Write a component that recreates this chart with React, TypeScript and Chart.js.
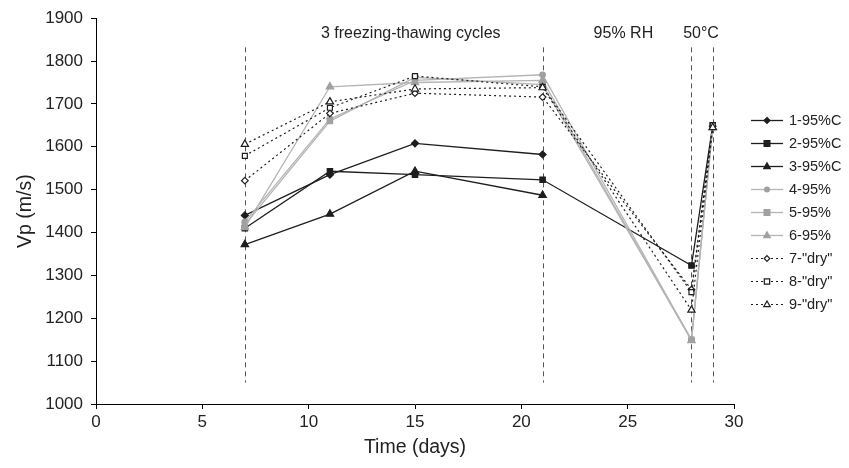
import React, { useEffect, useRef } from 'react';
import { Chart, registerables } from 'chart.js';

Chart.register(...registerables);

// ---- data ----
const days = [7, 11, 15, 21, 28, 29];
const s1 = [1440, 1535, 1608, 1582, null, null];
const s2 = [1410, 1543, 1535, 1523, 1323, 1650];
const s3 = [1372, 1443, 1543, 1487, null, null];
const s4 = [1425, 1665, 1755, 1768, 1150, 1645];
const s5 = [1418, 1660, 1762, 1745, 1150, 1648];
const s6 = [1412, 1740, 1750, 1755, 1148, 1645];
const s7 = [1521, 1678, 1725, 1716, 1267, 1648];
const s8 = [1579, 1691, 1765, 1740, 1261, 1650];
const s9 = [1606, 1705, 1735, 1738, 1219, 1645];
const seriesNames = ['1-95%C', '2-95%C', '3-95%C', '4-95%', '5-95%', '6-95%', '7-"dry"', '8-"dry"', '9-"dry"'];
const seriesValues = [s1, s2, s3, s4, s5, s6, s7, s8, s9];

const phaseDays = [7, 21, 28, 29];
const phaseLabels = ['3 freezing-thawing cycles', '95% RH', '50°C'];
const phaseLabelDays = [14.8, 24.8, 28.45];

// ---- styles ----
type Style = { color: string; fill: string; marker: string; radius: number; dash: number[]; width: number };
const BLACK = '#1e1e1e';
const GRAYL = '#b4b4b4';
const GRAYM = '#a0a0a0';
const styles: Style[] = [
  { color: BLACK, fill: BLACK, marker: 'rectRot', radius: 3.5, dash: [], width: 1.3 },
  { color: BLACK, fill: BLACK, marker: 'rect', radius: 3.8, dash: [], width: 1.3 },
  { color: BLACK, fill: BLACK, marker: 'triangle', radius: 4.3, dash: [], width: 1.3 },
  { color: GRAYL, fill: GRAYM, marker: 'circle', radius: 2.8, dash: [], width: 1.3 },
  { color: GRAYL, fill: GRAYM, marker: 'rect', radius: 3.8, dash: [], width: 1.3 },
  { color: GRAYL, fill: GRAYM, marker: 'triangle', radius: 4.3, dash: [], width: 1.3 },
  { color: BLACK, fill: '#ffffff', marker: 'rectRot', radius: 3.3, dash: [2, 3], width: 1.2 },
  { color: BLACK, fill: '#ffffff', marker: 'rect', radius: 3.5, dash: [2, 3], width: 1.2 },
  { color: BLACK, fill: '#ffffff', marker: 'triangle', radius: 4.2, dash: [2, 3], width: 1.2 },
];

const FONT = '"Liberation Sans", Arial, Helvetica, sans-serif';
const TEXT = '#222';

function drawMarker(ctx: CanvasRenderingContext2D, kind: string, x: number, y: number, r: number, fill: string, stroke: string) {
  ctx.save();
  ctx.setLineDash([]);
  ctx.fillStyle = fill;
  ctx.strokeStyle = stroke;
  ctx.lineWidth = 1.2;
  ctx.beginPath();
  if (kind === 'rect') {
    const s = r * 0.9;
    ctx.rect(x - s, y - s, 2 * s, 2 * s);
  } else if (kind === 'rectRot') {
    ctx.moveTo(x, y - r);
    ctx.lineTo(x + r, y);
    ctx.lineTo(x, y + r);
    ctx.lineTo(x - r, y);
    ctx.closePath();
  } else if (kind === 'triangle') {
    ctx.moveTo(x, y - r);
    ctx.lineTo(x + r * 0.9, y + r * 0.6);
    ctx.lineTo(x - r * 0.9, y + r * 0.6);
    ctx.closePath();
  } else {
    ctx.arc(x, y, r, 0, Math.PI * 2);
  }
  ctx.fill();
  ctx.stroke();
  ctx.restore();
}

const phasePlugin = {
  id: 'phases',
  beforeDatasetsDraw(chart: any) {
    const { ctx, scales } = chart;
    const x = scales.x;
    const y = scales.y;
    ctx.save();
    ctx.strokeStyle = '#555';
    ctx.lineWidth = 1;
    ctx.setLineDash([5, 4]);
    phaseDays.forEach((d) => {
      const px = Math.round(x.getPixelForValue(d)) + 0.5;
      ctx.beginPath();
      ctx.moveTo(px, y.getPixelForValue(1832));
      ctx.lineTo(px, y.getPixelForValue(1050));
      ctx.stroke();
    });
    ctx.setLineDash([]);
    ctx.fillStyle = TEXT;
    ctx.font = `16px ${FONT}`;
    ctx.textAlign = 'center';
    ctx.textBaseline = 'middle';
    phaseLabels.forEach((t, i) => {
      ctx.fillText(t, x.getPixelForValue(phaseLabelDays[i]), y.getPixelForValue(1863));
    });
    ctx.restore();
  },
};

const legendPlugin = {
  id: 'sideLegend',
  afterDraw(chart: any) {
    const { ctx } = chart;
    ctx.save();
    const x0 = 751;
    const x1 = 783;
    const top = 120;
    const step = 23;
    ctx.font = `14.5px ${FONT}`;
    ctx.textBaseline = 'middle';
    ctx.textAlign = 'left';
    seriesNames.forEach((name, i) => {
      const st = styles[i];
      const yy = top + i * step;
      ctx.strokeStyle = st.color;
      ctx.lineWidth = st.width;
      ctx.setLineDash(st.dash);
      ctx.beginPath();
      ctx.moveTo(x0, yy + 0.5);
      ctx.lineTo(x1, yy + 0.5);
      ctx.stroke();
      const mStroke = st.fill === '#ffffff' ? BLACK : st.fill;
      drawMarker(ctx, st.marker, (x0 + x1) / 2, yy + 0.5, st.radius * 0.85, st.fill, mStroke);
      ctx.fillStyle = TEXT;
      ctx.fillText(name, 789, yy + 1);
    });
    ctx.restore();
  },
};

export default function App() {
  const ref = useRef<HTMLCanvasElement | null>(null);
  useEffect(() => {
    if (!ref.current) return;
    const datasets = seriesNames.map((name, i) => {
      const st = styles[i];
      return {
        label: name,
        data: days.map((d, j) => ({ x: d, y: seriesValues[i][j] })),
        borderColor: st.color,
        backgroundColor: st.fill,
        borderWidth: st.width,
        borderDash: st.dash,
        pointStyle: st.marker,
        pointRadius: st.radius,
        pointBackgroundColor: st.fill,
        pointBorderColor: st.fill === '#ffffff' ? BLACK : st.fill,
        pointBorderWidth: 1.2,
        spanGaps: false,
        tension: 0,
        order: 9 - i,
      };
    });
    const chart = new Chart(ref.current, {
      type: 'line',
      data: { datasets } as any,
      options: {
        responsive: false,
        animation: false,
        devicePixelRatio: 1,
        layout: { padding: { top: 17, right: 115, left: 0, bottom: 0 } },
        plugins: { legend: { display: false }, tooltip: { enabled: false } },
        scales: {
          x: {
            type: 'linear',
            min: 0,
            max: 30,
            ticks: { stepSize: 5, color: TEXT, font: { family: FONT, size: 17 }, padding: 3, maxRotation: 0, callback: (v: any) => String(v) },
            grid: { display: true, drawOnChartArea: false, drawTicks: true, tickLength: 5, color: '#000', tickColor: '#000' },
            border: { display: true, color: '#000', width: 1 },
            title: { display: true, text: 'Time (days)', color: TEXT, font: { family: FONT, size: 19.5 }, padding: { top: 0, bottom: 9 } },
            afterFit: (s: any) => { s.height = 64; },
          },
          y: {
            type: 'linear',
            min: 1000,
            max: 1900,
            ticks: { stepSize: 100, color: TEXT, font: { family: FONT, size: 17 }, padding: 8, callback: (v: any) => String(v) },
            grid: { display: true, drawOnChartArea: false, drawTicks: true, tickLength: 5, color: '#000', tickColor: '#000' },
            border: { display: true, color: '#000', width: 1 },
            title: { display: true, text: 'Vp (m/s)', color: TEXT, font: { family: FONT, size: 19.5 }, padding: { top: 14, bottom: 0 } },
            afterFit: (s: any) => { s.width = 96; },
          },
        },
      } as any,
      plugins: [phasePlugin, legendPlugin],
    });
    return () => chart.destroy();
  }, []);
  return (
    <div style={{ position: 'absolute', left: 0, top: 0, width: 849, height: 468, background: '#fff' }}>
      <canvas ref={ref} width={849} height={468} style={{ display: 'block', width: 849, height: 468 }} />
    </div>
  );
}
